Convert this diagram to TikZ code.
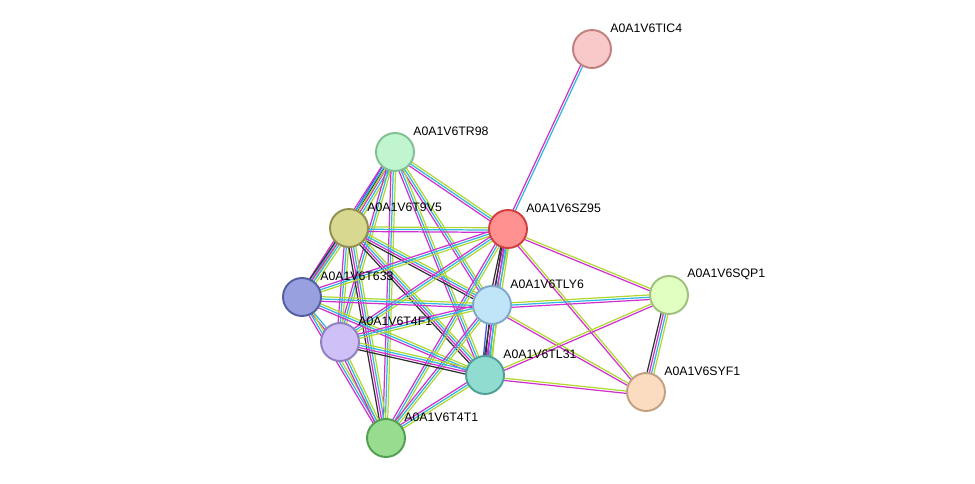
\documentclass[tikz,border=0pt]{standalone}
\usepackage{fontspec}
\setsansfont{Liberation Sans}
\usetikzlibrary{calc}
\definecolor{emag}{HTML}{D030D0}
\definecolor{ecya}{HTML}{30B8E0}
\definecolor{eyg}{HTML}{B0D830}
\definecolor{eblk}{HTML}{303030}
\definecolor{eblu}{HTML}{4050E0}
\tikzset{prot/.style={circle, minimum size=0.76cm, inner sep=0, line width=1.1pt}}
\tikzset{lbl/.style={font=\fontsize{7}{8}\sffamily, anchor=west, inner sep=0}}
\tikzset{eline/.style={line width=0.7pt}}
% one connector with parallel coloured strands
\newcommand{\stredge}[3]{%
  \foreach \c [count=\i] in {#3}{%
    \draw[eline, \c] ($(#1)!{(\i-2.5)*1.3pt}!90:(#2)$) -- ($(#2)!{(\i-2.5)*1.3pt}!-90:(#1)$);
  }}
\begin{document}
\begin{tikzpicture}[x=0.02cm,y=-0.02cm]
\useasboundingbox (0,0) rectangle (975,484);
\coordinate (TIC4) at (592,49);
\coordinate (TR98) at (395,152);
\coordinate (T9V5) at (349,228);
\coordinate (SZ95) at (508,229);
\coordinate (T633) at (302,297);
\coordinate (TLY6) at (492,305);
\coordinate (SQP1) at (669,295);
\coordinate (T4F1) at (340,342);
\coordinate (TL31) at (485,375);
\coordinate (SYF1) at (646,392);
\coordinate (T4T1) at (386,438);
%
\stredge{TIC4}{SZ95}{emag,ecya}
\stredge{TR98}{SZ95}{emag,ecya,eyg}
\stredge{TR98}{T9V5}{eblu,eblk,emag,ecya,eyg}
\stredge{TR98}{T633}{emag,ecya,eyg}
\stredge{TR98}{T4F1}{emag,ecya,eyg}
\stredge{TR98}{TLY6}{emag,ecya,eyg}
\stredge{TR98}{TL31}{emag,ecya,eyg}
\stredge{TR98}{T4T1}{emag,ecya,eyg}
\stredge{T9V5}{SZ95}{emag,ecya,eyg}
\stredge{T9V5}{T633}{eblk,emag,ecya,eyg}
\stredge{T9V5}{TLY6}{eblk,emag,ecya,eyg}
\stredge{T9V5}{TL31}{eblk,emag,ecya,eyg}
\stredge{T9V5}{T4F1}{emag,ecya,eyg}
\stredge{T9V5}{T4T1}{eblk,emag,ecya,eyg}
\stredge{SZ95}{T633}{emag,ecya,eyg}
\stredge{SZ95}{TLY6}{eblk,emag,ecya,eyg}
\stredge{SZ95}{T4F1}{emag,ecya,eyg}
\stredge{SZ95}{TL31}{eblk,emag,ecya,eyg}
\stredge{SZ95}{T4T1}{emag,ecya,eyg}
\stredge{SZ95}{SQP1}{emag,eyg}
\stredge{SZ95}{SYF1}{emag,eyg}
\stredge{T633}{TLY6}{emag,ecya,eyg}
\stredge{T633}{T4F1}{emag,ecya}
\stredge{T633}{TL31}{emag,ecya,eyg}
\stredge{T633}{T4T1}{emag,ecya,eyg}
\stredge{TLY6}{T4F1}{emag,ecya,eyg}
\stredge{TLY6}{TL31}{eblu,eblk,emag,ecya,eyg}
\stredge{TLY6}{T4T1}{emag,ecya,eyg}
\stredge{TLY6}{SQP1}{emag,ecya,eyg}
\stredge{TLY6}{SYF1}{emag,eyg}
\stredge{T4F1}{TL31}{eblk,emag,ecya,eyg}
\stredge{T4F1}{T4T1}{emag,ecya,eyg}
\stredge{TL31}{T4T1}{emag,ecya,eyg}
\stredge{TL31}{SQP1}{emag,eyg}
\stredge{TL31}{SYF1}{emag,eyg}
\stredge{SQP1}{SYF1}{eblk,emag,ecya,eyg}
%
\node[prot, fill={rgb,255:red,249;green,201;blue,201}, draw={rgb,255:red,192;green,128;blue,128}] (n-TIC4) at (TIC4) {};
\node[prot, fill={rgb,255:red,192;green,245;blue,208}, draw={rgb,255:red,128;green,192;blue,144}] (n-TR98) at (TR98) {};
\node[prot, fill={rgb,255:red,216;green,216;blue,144}, draw={rgb,255:red,144;green,144;blue,80}] (n-T9V5) at (T9V5) {};
\node[prot, fill={rgb,255:red,255;green,144;blue,144}, draw={rgb,255:red,208;green,64;blue,64}] (n-SZ95) at (SZ95) {};
\node[prot, fill={rgb,255:red,152;green,160;blue,224}, draw={rgb,255:red,80;green,96;blue,160}] (n-T633) at (T633) {};
\node[prot, fill={rgb,255:red,192;green,228;blue,248}, draw={rgb,255:red,128;green,168;blue,200}] (n-TLY6) at (TLY6) {};
\node[prot, fill={rgb,255:red,224;green,255;blue,192}, draw={rgb,255:red,160;green,192;blue,128}] (n-SQP1) at (SQP1) {};
\node[prot, fill={rgb,255:red,208;green,192;blue,248}, draw={rgb,255:red,144;green,128;blue,192}] (n-T4F1) at (T4F1) {};
\node[prot, fill={rgb,255:red,144;green,220;blue,208}, draw={rgb,255:red,80;green,160;blue,152}] (n-TL31) at (TL31) {};
\node[prot, fill={rgb,255:red,252;green,220;blue,192}, draw={rgb,255:red,192;green,160;blue,128}] (n-SYF1) at (SYF1) {};
\node[prot, fill={rgb,255:red,152;green,220;blue,144}, draw={rgb,255:red,80;green,160;blue,80}] (n-T4T1) at (T4T1) {};
%
\foreach \p in {TIC4,TR98,T9V5,SZ95,T633,TLY6,SQP1,T4F1,TL31,SYF1,T4T1}
  \node[lbl] (l-\p) at ($(\p)+(18,-21)$) {A0A1V6\p};
\end{tikzpicture}
\end{document}
